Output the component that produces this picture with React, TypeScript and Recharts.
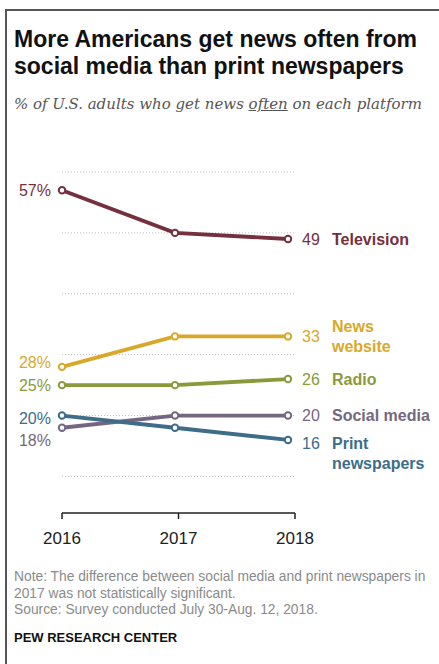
import React from 'react'
import { LineChart, Line, XAxis, YAxis, CartesianGrid, LabelList } from 'recharts'

const years = [2016, 2017, 2018]
const television = [57, 50, 49]
const newsWebsite = [28, 33, 33]
const radio = [25, 25, 26]
const socialMedia = [18, 20, 20]
const printNewspapers = [20, 18, 16]
const gridTicks = [10, 20, 30, 40, 50, 60]

const data = years.map((year, i) => ({
  year,
  television: television[i],
  newsWebsite: newsWebsite[i],
  radio: radio[i],
  socialMedia: socialMedia[i],
  printNewspapers: printNewspapers[i],
}))

const SANS = '"Liberation Sans", Arial, sans-serif'

const series = [
  { key: 'television', name: ['Television'], color: '#74303e', leftDy: 0, rightDy: 0, nameDy: 0 },
  { key: 'newsWebsite', name: ['News', 'website'], color: '#d9a82a', leftDy: -5, rightDy: 0, nameDy: -10 },
  { key: 'radio', name: ['Radio'], color: '#8a9a3b', leftDy: 0, rightDy: 0, nameDy: 0 },
  { key: 'socialMedia', name: ['Social media'], color: '#756780', leftDy: 12, rightDy: 0, nameDy: 0 },
  { key: 'printNewspapers', name: ['Print', 'newspapers'], color: '#3d6d88', leftDy: 3, rightDy: 3, nameDy: 3 },
]

type S = typeof series[number]

function endLabels(s: S) {
  return (props: any) => {
    const { x, y, index, value } = props
    if (index === 0) {
      return (
        <text x={x - 11} y={y + s.leftDy} dy="0.36em" textAnchor="end" fontSize={16} fontFamily={SANS} fill={s.color}>
          {value}%
        </text>
      )
    }
    if (index === years.length - 1) {
      return (
        <g>
          <text x={x + 14} y={y + s.rightDy} dy="0.36em" fontSize={16} fontFamily={SANS} fill={s.color}>
            {value}
          </text>
          <text x={x + 44} y={y + s.nameDy} fontSize={16} fontWeight="bold" fontFamily={SANS} fill={s.color}>
            {s.name.map((n, i) => (
              <tspan key={n} x={x + 44} dy={i === 0 ? '0.36em' : 20}>{n}</tspan>
            ))}
          </text>
        </g>
      )
    }
    return null
  }
}

export default function App() {
  return (
    <div style={{ position: 'absolute', left: 0, top: 0, width: 439, height: 664, background: '#fff', overflow: 'hidden' }}>
      {/* frame */}
      <div style={{ position: 'absolute', left: 5, top: 9, width: 460, height: 700, borderLeft: '2px solid #555', borderTop: '2px solid #555' }} />

      <div style={{ position: 'absolute', left: 14, top: 26, fontFamily: SANS, fontWeight: 'bold', fontSize: 23, lineHeight: '27px', color: '#111', whiteSpace: 'nowrap' }}>
        More Americans get news often from<br />social media than print newspapers
      </div>
      <div style={{ position: 'absolute', left: 14, top: 95, fontFamily: '"DejaVu Serif", serif', fontStyle: 'italic', fontSize: 15, color: '#555', whiteSpace: 'nowrap' }}>
        % of U.S. adults who get news <span style={{ textDecoration: 'underline' }}>often</span> on each platform
      </div>

      <div style={{ position: 'absolute', left: 0, top: 0 }}>
        <LineChart width={439} height={664} data={data} margin={{ top: 172, right: 144, bottom: 121, left: 62 }}>
          <CartesianGrid vertical={false} stroke="#bdbdbd" strokeDasharray="1 2" horizontalValues={gridTicks} />
          <XAxis dataKey="year" type="number" domain={[2016, 2018]} padding={{ left: 0, right: 7 }} height={0} hide />
          <XAxis
            xAxisId="ticks"
            dataKey="year"
            type="number"
            domain={[2016, 2018]}
            ticks={years}
            height={30}
            tickSize={6}
            tickMargin={13}
            axisLine={{ stroke: '#222', strokeWidth: 1.5 }}
            tickLine={{ stroke: '#222', strokeWidth: 1.5 }}
            tick={{ fontSize: 17, fill: '#222', fontFamily: SANS }}
          />
          <YAxis type="number" domain={[4, 60]} ticks={gridTicks} hide />
          {series.map((s) => (
            <Line
              key={s.key}
              dataKey={s.key}
              stroke={s.color}
              strokeWidth={3.8}
              dot={{ r: 3.2, fill: '#fff', stroke: s.color, strokeWidth: 2 }}
              activeDot={false}
              isAnimationActive={false}
            >
              <LabelList dataKey={s.key} content={endLabels(s)} />
            </Line>
          ))}
        </LineChart>
      </div>

      <div style={{ position: 'absolute', left: 14, top: 569, fontFamily: SANS, fontSize: 13.8, lineHeight: '16.5px', color: '#8a8a8a', whiteSpace: 'nowrap' }}>
        Note: The difference between social media and print newspapers in<br />
        2017 was not statistically significant.<br />
        Source: Survey conducted July 30-Aug. 12, 2018.
      </div>
      <div style={{ position: 'absolute', left: 14, top: 630, fontFamily: SANS, fontWeight: 'bold', fontSize: 13, lineHeight: '15px', color: '#111', whiteSpace: 'nowrap' }}>
        PEW RESEARCH CENTER
      </div>
    </div>
  )
}
